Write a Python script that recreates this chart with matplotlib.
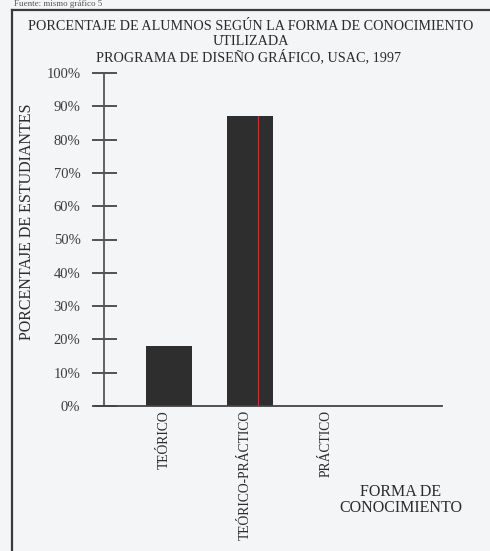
import matplotlib
matplotlib.use("Agg")
import matplotlib.pyplot as plt
import matplotlib.transforms as mtransforms
from matplotlib.lines import Line2D

# ---- data ----
categories = ["TEÓRICO", "TEÓRICO-PRÁCTICO", "PRÁCTICO"]
values = [18, 87, 0]
y_ticks = [0, 10, 20, 30, 40, 50, 60, 70, 80, 90, 100]
y_tick_labels = [f"{v}%" for v in y_ticks]
title_lines = ["PORCENTAJE DE ALUMNOS SEGÚN LA FORMA DE CONOCIMIENTO",
               "UTILIZADA",
               "PROGRAMA DE DISEÑO GRÁFICO, USAC, 1997"]
y_label = "PORCENTAJE DE ESTUDIANTES"
x_label = "FORMA DE\nCONOCIMIENTO"

W, H = 490, 551
BG = "#f3f5f7"
INK = "#2b2b2b"
plt.rcParams["font.family"] = ["Liberation Serif", "DejaVu Serif"]

fig = plt.figure(figsize=(W / 100, H / 100), dpi=100, facecolor=BG)

def fx(px):
    return px / W

def fy(py):
    return 1 - py / H

# axes: x from 95 to 442 px, y 0% at 406 px, 100% at 73 px
ax = fig.add_axes([fx(95), fy(406), (442 - 95) / W, (406 - 73) / H])
ax.set_facecolor(BG)
pos = list(range(len(categories)))
ax.bar(pos, values, width=0.57, color="#2e2e2e", zorder=2)
ax.set_xlim(-0.914, 3.37)
ax.set_ylim(0, 100)

# scan artifact: thin red line through second bar
ax.plot([1.10, 1.10], [0, values[1]], color="#c8323c", lw=0.8, zorder=3)

for s in ["top", "right"]:
    ax.spines[s].set_visible(False)
ax.spines["left"].set_position(("data", -0.802))
ax.spines["left"].set_color("#555555")
ax.spines["left"].set_linewidth(1.3)
ax.spines["bottom"].set_color("#444444")
ax.spines["bottom"].set_linewidth(1.3)

ax.set_yticks(y_ticks)
ax.set_yticklabels(y_tick_labels, fontsize=10.5, color="#3c3c3c")
ax.tick_params(axis="y", direction="inout", length=18, width=1.3,
               color="#444444", pad=8)

ax.set_xticks(pos)
ax.set_xticklabels(categories, rotation=90, fontsize=9.8, color=INK, va="top", ha="center")
ax.tick_params(axis="x", length=0, pad=3)
offset = mtransforms.ScaledTranslation(-5 / 100, 0, fig.dpi_scale_trans)
for lbl in ax.get_xticklabels():
    lbl.set_transform(lbl.get_transform() + offset)

# titles
fig.text(fx(251), fy(27), title_lines[0], ha="center", va="center", fontsize=10.2, color=INK)
fig.text(fx(251), fy(41), title_lines[1], ha="center", va="center", fontsize=10.2, color=INK)
fig.text(fx(248), fy(57), title_lines[2], ha="center", va="center", fontsize=10.2, color=INK)

fig.text(fx(27), fy(222), y_label, rotation=90, ha="center", va="center",
         fontsize=11.5, color=INK)
fig.text(fx(401), fy(500), x_label, ha="center", va="center", fontsize=11.5,
         color=INK, linespacing=1.05)

# caption at the top edge (cut off in the scan)
fig.text(fx(14), fy(4.5), "Fuente: mismo gráfico 5", ha="left", va="center",
         fontsize=6.5, color="#555555")

# frame (open on right and bottom)
fig.add_artist(Line2D([fx(12), fx(490)], [fy(10), fy(10)], color="#3a3a3a", lw=1.6))
fig.add_artist(Line2D([fx(12), fx(12)], [fy(10), fy(551)], color="#3a3a3a", lw=1.6))

fig.savefig("out.png", dpi=100, facecolor=BG)
